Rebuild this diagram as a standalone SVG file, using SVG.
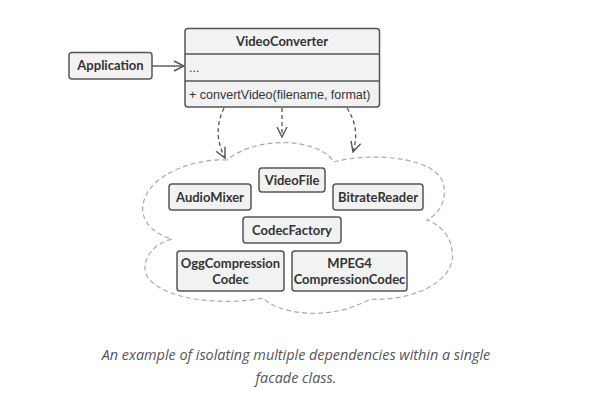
<svg xmlns="http://www.w3.org/2000/svg" width="592" height="407" viewBox="0 0 592 407">
<defs>
<style>
.box{fill:#f2f2f2;stroke:#555;stroke-width:1.5}
.t{font-family:Lato,"Liberation Sans",Arial,sans-serif;font-weight:bold;font-size:13px;fill:#333;text-anchor:middle}
.m{font-family:"Liberation Sans",Arial,sans-serif;font-size:12.5px;fill:#333}
.dash{fill:none;stroke:#555;stroke-width:1.3;stroke-dasharray:4,3}
.cloud{fill:none;stroke:#aaa;stroke-width:1.2;stroke-dasharray:5,3}
.cap{font-family:"Open Sans","Liberation Sans",sans-serif;font-style:italic;font-size:14.4px;fill:#555;text-anchor:middle}
</style>
<marker id="open" viewBox="0 0 12 12" refX="11" refY="6" markerWidth="12" markerHeight="12" markerUnits="userSpaceOnUse" orient="auto">
<path d="M1,1 L11,6 L1,11" fill="none" stroke="#555" stroke-width="1.4"/>
</marker>
</defs>
<rect width="592" height="407" fill="#fff"/>
<path class="cloud" d="M227,160 C200,158 148,172 143,205 C140,225 160,236 172,239 C148,245 138,268 150,280 C170,302 230,305 263,298 C278,314 330,322 370,299 C410,302 458,282 452,250 C450,235 440,225 427,220 C447,210 450,182 435,172 C420,158 370,152 334,162 C318,138 258,135 227,160 Z"/>
<g id="connectors">
<line x1="152" y1="66" x2="184" y2="66" stroke="#555" stroke-width="1.4" marker-end="url(#open)"/>
<path class="dash" d="M224,108 C216,125 216,140 225,158" marker-end="url(#open)"/>
<path class="dash" d="M282,108 L282,137" marker-end="url(#open)"/>
<path class="dash" d="M347,108 C356,122 358,135 353,152" marker-end="url(#open)"/>
</g>
<g id="application">
<rect class="box" x="69" y="52.5" width="83" height="26.5" rx="3"/>
<text class="t" x="110.5" y="70">Application</text>
</g>
<g id="videoconverter">
<rect class="box" x="185" y="28.5" width="194.5" height="78.5" rx="3"/>
<line x1="185" y1="54" x2="379.5" y2="54" stroke="#555" stroke-width="1.5"/>
<line x1="185" y1="81" x2="379.5" y2="81" stroke="#555" stroke-width="1.5"/>
<text class="t" x="282" y="46">VideoConverter</text>
<text class="m" x="189" y="72">...</text>
<text class="m" x="189" y="99">+ convertVideo(filename, format)</text>
</g>
<g id="videofile">
<rect class="box" x="259" y="168" width="66" height="24" rx="3"/>
<text class="t" x="292" y="185">VideoFile</text>
</g>
<g id="audiomixer">
<rect class="box" x="169" y="184" width="82" height="26" rx="3"/>
<text class="t" x="210" y="202">AudioMixer</text>
</g>
<g id="bitratereader">
<rect class="box" x="333" y="184" width="90" height="26" rx="3"/>
<text class="t" x="378" y="202">BitrateReader</text>
</g>
<g id="codecfactory">
<rect class="box" x="243" y="217" width="98" height="26" rx="3"/>
<text class="t" x="292" y="235">CodecFactory</text>
</g>
<g id="oggcodec">
<rect class="box" x="177" y="251" width="107" height="40" rx="3"/>
<text class="t" x="230.5" y="268">OggCompression</text>
<text class="t" x="230.5" y="284">Codec</text>
</g>
<g id="mpeg4codec">
<rect class="box" x="292" y="251" width="115" height="40" rx="3"/>
<text class="t" x="349.5" y="268">MPEG4</text>
<text class="t" x="349.5" y="284">CompressionCodec</text>
</g>
<text class="cap" x="296" y="360">An example of isolating multiple dependencies within a single</text>
<text class="cap" x="296" y="383">facade class.</text>
</svg>
